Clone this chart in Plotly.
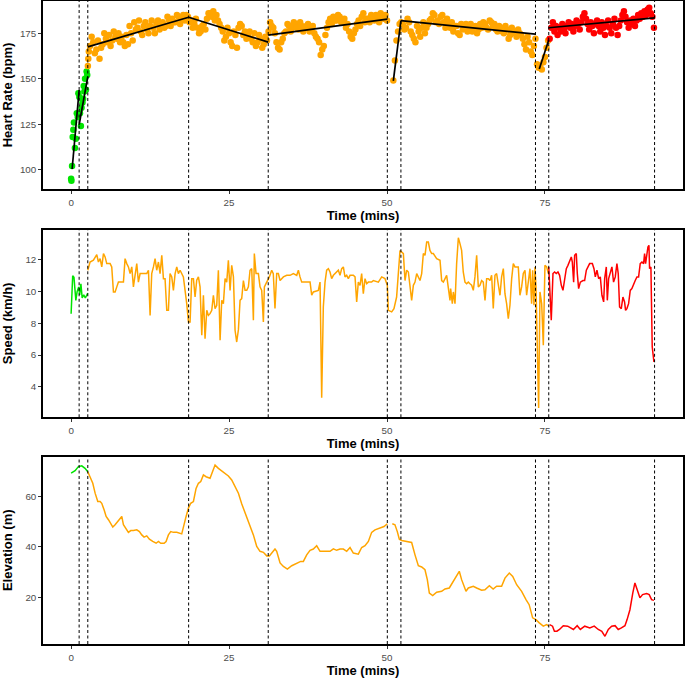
import plotly.graph_objects as go

# ---------------- data ----------------
phase_bounds = [1.27, 2.64, 18.6, 31.2, 50.05, 52.2, 73.5, 75.6, 92.35]

hr_green_t = [0.0, 0.05, 0.15, 0.25, 0.35, 0.45, 0.6, 0.75, 0.9, 1.05, 1.15, 1.3,
              1.4, 1.55, 1.65, 1.8, 1.9, 2.0, 2.1, 2.2, 2.35, 2.45, 2.55]
hr_green = [95, 94, 102, 118, 122, 126, 112, 117, 131, 129, 142, 140,
            131, 124, 134, 137, 139, 146, 143, 150, 144, 154, 152]

hr_orange_pre_t = [2.65, 2.72, 2.8]
hr_orange_pre = [157, 161, 165]
hr_orange_start, hr_orange_step = 3.0, 0.5
hr_orange = [
    168, 170, 166, 161, 169, 172, 174, 171, 173, 175,
    173, 168, 169, 175, 181, 178, 176, 179, 177, 179,
    178, 180, 177, 181, 179, 182, 183, 181, 184, 183,
    182, 184, 182, 180, 178, 176, 180, 183, 186, 187,
    185, 180, 176, 173, 175, 168, 174, 178, 179, 176,
    174, 172, 175, 170, 172, 169, 171, 181, 178, 170,
    166, 172, 176, 179, 178, 180, 177, 179, 178, 180,
    177, 175, 172, 163, 168, 178, 183, 184, 182, 184,
    181, 178, 176, 172, 177, 182, 184, 181, 183, 185,
    182, 184, 186, 183, 182, None, 149, 171, 180, 180,
    178, 181, 174, 170, 176, 178, 175, 180, 183, 185,
    182, 184, 181, 183, 178, 176, 179, 174, 177, 180,
    178, 176, 179, 177, 178, 180, 177, 181, 180, 176,
    178, 175, 177, 174, 176, 173, 175, 172, 166, 170,
    163, 172, 156, 155, 162, 171]
# second set of readings, sampled between the first ones
hr_orange_b_start = 3.25
hr_orange_b = [
    173, 164, 171, 167, 175, 170, 168, 176, 172, 170,
    170, 174, 179, 171, 177, 182, 174, 181, 175, 182,
    175, 182, 180, 178, 184, 179, 181, 185, 180, 185,
    185, 181, 178, 183, 175, 179, 177, 186, 184, 182,
    182, 178, 171, 178, 170, 176, 167, 180, 174, 172,
    176, 170, 168, 174, 167, 173, 176, 179, 175, 167,
    170, 175, 180, 176, 181, 178, 181, 176, 179, 176,
    179, 173, 170, 166, 174, 181, 180, 182, 185, 181,
    183, 180, 173, 175, 180, 179, 186, 183, 181, 183,
    185, 181, 184, 185, None, None, 160, 176, 181, 177,
    183, 176, 172, 179, 173, 181, 178, 182, 186, 181,
    180, 185, 178, 180, 181, 179, 175, 180, 178, 176,
    180, 178, 175, 180, 181, 178, 182, 179, 177, 179,
    176, 179, 172, 178, 175, 177, 174, 169, 173, 165,
    168, 158, 157, 159, 167]
hr_red_start, hr_red_step = 75.75, 0.25
hr_red = [
    172, 178, 181, 176, 179, 174, 178, 176, 180, 177,
    175, 179, 181, 178, 180, 176, 179, 182, 180, 177,
    181, 184, 186, 183, 180, 177, 181, 179, 175, 180,
    182, 179, 176, 181, 178, 174, 179, 182, 178, 175,
    180, 183, 178, 174, 179, 182, 185, 187, 184, 181,
    178, 182, 180, 183, 179, 182, 185, 183, 186, 184,
    187, 185, 188, 189, 186, 184, 178]

# per-phase linear fits of heart rate (start/end of each fitted segment)
fit_t0 = [0.16, 1.27, 2.64, 18.6, 31.2, 51.0, 52.2, 74.1, 75.6]
fit_t1 = [1.27, 2.64, 18.6, 31.2, 50.05, 52.2, 73.5, 75.6, 92.35]
fit_hr0 = [100.4, 124.7, 167.5, 183.8, 174.0, 148.8, 181.9, 155.4, 178.0]
fit_hr1 = [143.8, 151.2, 183.8, 170.1, 182.7, 181.9, 174.5, 171.3, 183.4]

speed_green = [(0.0, 8.6), (0.25, 11.0), (0.45, 10.9), (0.75, 9.45), (0.95, 10.0),
               (1.2, 10.3), (1.35, 9.8), (1.55, 10.5), (1.75, 9.6), (2.0, 9.8),
               (2.25, 9.6), (2.5, 9.8), (2.64, 9.9)]
speed_orange = [
    (2.64, 11.35), (3.0, 11.87), (3.53, 11.98), (4.06, 12.33), (4.32, 11.87), (4.59, 12.08),
    (4.85, 11.56), (5.12, 12.4), (5.38, 12.19), (5.64, 11.77), (6.17, 11.77), (6.43, 11.56),
    (6.7, 9.98), (6.96, 9.98), (7.23, 10.3), (7.49, 10.6), (8.28, 10.6), (8.54, 12.08),
    (8.81, 11.77), (9.07, 11.56), (9.34, 11.14), (9.6, 11.56), (9.86, 10.3), (10.13, 11.14),
    (10.39, 11.77), (10.65, 10.6), (10.92, 11.14), (11.97, 11.14), (12.24, 11.35), (12.5, 8.5),
    (12.76, 11.14), (13.03, 11.56), (13.29, 12.08), (13.55, 11.35), (13.82, 11.87), (14.08, 11.14),
    (14.35, 12.29), (14.61, 10.82), (14.87, 10.82), (15.14, 8.82), (15.4, 8.82), (15.66, 11.14),
    (15.93, 10.93), (16.19, 10.08), (16.46, 11.14), (16.72, 11.56), (16.98, 11.14), (17.25, 11.35),
    (17.51, 11.14), (17.77, 10.93), (18.3, 9.24), (18.57, 8.09), (18.83, 8.09), (19.09, 10.82),
    (19.36, 10.82), (19.62, 9.66), (19.88, 10.72), (20.15, 10.93), (20.41, 10.3), (20.68, 7.25),
    (20.94, 9.77), (21.2, 7.03), (21.47, 8.82), (21.73, 8.5), (21.99, 8.61), (22.26, 8.82),
    (22.52, 9.77), (22.78, 8.93), (23.05, 9.14), (23.31, 11.35), (23.58, 6.93), (23.84, 9.45),
    (24.1, 9.24), (24.37, 10.82), (24.63, 10.6), (24.89, 11.98), (25.16, 10.08), (25.42, 11.66),
    (25.69, 10.93), (25.95, 7.56), (26.21, 6.82), (26.48, 7.6), (26.74, 9.45), (27.0, 9.56),
    (27.27, 10.7), (27.53, 10.08), (27.8, 10.08), (28.06, 10.3), (28.32, 11.35), (28.59, 11.45),
    (28.85, 8.19), (29.0, 12.4), (29.27, 11.14), (29.64, 11.14), (29.9, 10.3), (30.17, 10.08),
    (30.43, 8.09), (30.59, 10.3), (30.96, 10.6), (31.38, 10.93), (31.75, 11.35), (32.0, 11.14),
    (32.27, 8.93), (32.54, 11.14), (32.8, 11.14), (33.07, 10.7), (33.6, 10.93), (34.13, 11.03),
    (34.65, 11.03), (35.18, 11.14), (35.71, 11.03), (35.97, 11.35), (36.23, 10.93), (36.5, 10.6),
    (37.82, 10.6), (38.08, 9.77), (38.34, 9.98), (39.13, 10.08), (39.4, 10.6), (39.66, 3.3),
    (39.92, 9.03), (40.19, 10.6), (40.45, 11.35), (40.72, 11.45), (40.98, 11.24), (41.24, 10.82),
    (41.51, 11.03), (41.77, 11.14), (42.03, 11.24), (42.3, 11.35), (42.56, 11.03), (42.83, 11.45),
    (43.09, 11.56), (43.35, 10.93), (43.62, 11.03), (43.88, 10.82), (44.15, 11.03), (44.67, 11.03),
    (44.94, 10.93), (45.2, 9.35), (45.46, 10.6), (45.73, 10.4), (45.99, 11.14), (46.25, 9.87),
    (46.52, 10.82), (46.78, 10.5), (47.05, 10.6), (47.57, 10.6), (47.84, 10.7), (48.37, 10.6),
    (48.63, 10.6), (49.16, 10.93), (49.68, 10.82), (50.05, 10.4), (50.21, 8.82), (50.74, 8.72),
    (51.1, 8.93), (51.52, 9.66), (51.79, 11.35), (52.06, 12.6), (52.32, 12.5), (52.59, 12.4),
    (52.85, 10.7), (53.11, 11.35), (53.38, 11.24), (53.64, 10.3), (53.9, 9.45), (54.17, 10.4),
    (54.43, 10.6), (54.7, 11.14), (54.96, 10.93), (55.22, 10.7), (55.49, 11.14), (55.75, 12.4),
    (56.01, 12.29), (56.28, 13.13), (56.54, 13.13), (56.8, 12.6), (57.07, 12.4), (57.33, 12.4),
    (57.86, 12.08), (58.39, 11.98), (58.65, 10.7), (58.92, 10.6), (59.44, 11.03), (59.97, 9.45),
    (60.07, 10.19), (60.34, 9.24), (60.5, 9.98), (60.76, 9.24), (61.02, 11.77), (61.29, 13.4),
    (61.55, 13.03), (61.81, 12.6), (62.07, 11.24), (62.34, 10.6), (62.6, 10.5), (62.87, 10.6),
    (63.13, 10.5), (63.4, 10.4), (63.66, 10.08), (63.92, 10.93), (64.19, 12.29), (64.45, 10.3),
    (64.71, 10.4), (64.98, 10.7), (65.24, 10.6), (65.51, 9.45), (65.77, 10.82), (66.03, 10.82),
    (66.3, 10.7), (66.56, 11.03), (66.82, 8.93), (67.09, 11.03), (67.35, 11.14), (67.62, 10.3),
    (67.88, 9.77), (68.14, 10.93), (68.41, 11.45), (68.67, 9.87), (68.93, 9.24), (69.2, 8.3),
    (69.46, 9.14), (69.73, 10.82), (69.99, 11.77), (70.25, 11.56), (70.52, 11.56), (70.78, 11.56),
    (71.04, 9.77), (71.31, 10.3), (71.57, 11.14), (71.84, 11.35), (72.1, 9.77), (72.36, 10.6),
    (72.63, 11.45), (72.89, 9.24), (73.05, 11.35), (73.26, 9.14), (73.42, 11.56), (73.58, 10.3),
    (73.79, 5.67), (74.0, 2.65), (74.21, 9.98), (74.48, 9.24), (74.74, 6.61), (75.0, 11.66),
    (75.27, 11.56), (75.53, 11.14)]
speed_red = [
    (75.6, 11.56), (75.74, 10.3), (76.0, 8.19), (76.27, 11.14), (76.53, 11.24), (76.79, 11.14),
    (77.06, 11.24), (77.32, 11.03), (77.59, 10.4), (77.85, 10.08), (78.11, 10.7), (78.38, 11.45),
    (78.64, 11.66), (78.9, 11.98), (79.17, 12.19), (79.33, 11.87), (79.54, 10.6), (79.7, 12.29),
    (79.96, 12.4), (80.12, 11.14), (80.33, 10.19), (80.6, 10.6), (81.02, 10.7), (81.28, 10.7),
    (81.55, 11.35), (82.07, 11.77), (82.5, 11.77), (82.76, 11.45), (82.97, 10.93), (83.23, 11.35),
    (83.5, 10.82), (83.76, 10.93), (84.02, 9.77), (84.29, 9.35), (84.45, 10.82), (84.71, 11.56),
    (84.87, 9.45), (85.08, 10.82), (85.34, 11.14), (85.6, 11.56), (85.86, 10.6), (86.13, 10.93),
    (86.39, 11.77), (86.6, 11.14), (86.81, 9.03), (87.08, 8.93), (87.34, 9.66), (87.6, 9.35),
    (87.76, 8.82), (87.97, 8.93), (88.24, 9.24), (88.5, 10.08), (88.76, 10.19), (89.03, 10.4),
    (89.29, 10.7), (89.56, 10.93), (89.82, 10.93), (90.08, 11.77), (90.35, 11.87), (90.61, 11.77),
    (90.77, 12.4), (90.93, 11.77), (91.14, 12.5), (91.3, 12.82), (91.46, 12.92), (91.56, 11.45),
    (91.77, 11.56), (91.98, 6.51), (92.25, 5.56)]

elev_green = [(0.0, 69.1), (0.63, 70.1), (1.16, 71.7), (1.69, 72.0), (2.2, 71.0), (2.64, 69.7)]
elev_orange = [
    (2.64, 69.7), (3.0, 67.7), (3.43, 65.1), (3.8, 61.2), (4.22, 57.9), (4.59, 57.9), (4.85, 57.2),
    (5.22, 54.6), (5.54, 52.0), (5.91, 50.7), (6.28, 49.3), (6.6, 47.8), (6.96, 48.7), (7.23, 49.6),
    (7.49, 50.4), (7.75, 51.3), (8.02, 52.0), (8.28, 48.7), (8.65, 47.4), (9.07, 45.7), (9.44, 46.4),
    (9.86, 46.4), (10.39, 46.7), (10.81, 46.0), (11.18, 44.7), (11.55, 43.8), (11.97, 44.3),
    (12.39, 43.0), (12.92, 42.1), (13.45, 41.4), (13.82, 42.1), (14.19, 41.4), (14.72, 41.4),
    (15.03, 42.1), (15.4, 44.7), (15.77, 46.0), (16.19, 45.7), (16.72, 45.7), (17.51, 45.1),
    (17.77, 48.0), (18.2, 52.0), (18.57, 55.3), (18.93, 57.2), (19.36, 57.9), (19.78, 63.1),
    (20.15, 65.1), (20.52, 65.8), (20.94, 68.4), (21.36, 67.7), (21.99, 67.1), (22.52, 70.4),
    (22.78, 72.3), (23.31, 71.0), (23.84, 70.1), (24.37, 69.1), (24.89, 68.0), (25.42, 66.4),
    (25.95, 63.8), (26.48, 61.2), (27.0, 57.0), (27.27, 55.3), (27.8, 52.0), (28.32, 48.0),
    (28.85, 44.7), (29.38, 40.1), (29.9, 38.2), (30.43, 37.8), (30.96, 36.4), (31.38, 36.4),
    (31.91, 37.8), (32.27, 39.1), (32.54, 38.2), (33.07, 33.6), (33.6, 32.2), (34.23, 31.2),
    (34.92, 32.5), (35.71, 33.6), (36.34, 34.2), (36.76, 34.2), (37.29, 36.8), (37.82, 38.6),
    (38.34, 39.1), (38.87, 40.4), (39.4, 38.2), (40.45, 38.2), (40.98, 38.2), (41.51, 39.2),
    (42.03, 38.6), (42.56, 39.1), (43.09, 39.1), (43.62, 38.2), (44.15, 39.7), (44.67, 37.5),
    (45.46, 37.1), (45.99, 39.7), (46.52, 40.4), (47.05, 42.1), (47.57, 45.7), (48.1, 46.7),
    (48.89, 47.4), (49.52, 48.0), (50.05, 49.1), (50.4, None), (50.84, 49.1), (51.26, 48.7),
    (51.63, 46.0), (51.95, 43.0), (52.32, 42.5), (53.11, 42.1), (53.9, 41.7), (54.43, 36.8),
    (54.96, 32.5), (55.49, 32.0), (56.01, 30.9), (56.38, 27.0), (56.7, 21.7), (57.23, 20.7),
    (57.86, 22.0), (58.65, 22.4), (59.18, 23.3), (59.86, 23.7), (60.5, 26.3), (61.02, 28.6),
    (61.44, 30.3), (61.81, 27.0), (62.5, 22.4), (62.87, 23.7), (63.66, 24.4), (64.19, 23.7),
    (64.98, 22.8), (65.5, 23.0), (66.2, 24.6), (66.8, 23.3), (67.35, 24.4), (68.14, 24.4),
    (68.67, 27.6), (69.36, 29.6), (69.9, 28.3), (70.52, 25.0), (71.31, 22.4), (72.0, 19.1),
    (72.5, 17.1), (73.05, 11.9), (73.58, 11.2), (74.1, 9.9), (74.74, 8.6), (75.27, 9.2), (75.6, 8.6)]
elev_red = [
    (75.74, 9.2), (76.2, 8.6), (76.5, 6.6), (76.9, 6.6), (77.3, 7.3), (77.9, 8.8), (78.6, 8.6),
    (79.5, 7.3), (80.1, 8.8), (80.6, 7.3), (81.3, 8.6), (82.1, 7.9), (82.8, 8.6), (83.44, 7.3),
    (84.0, 6.6), (84.5, 4.6), (85.03, 7.3), (85.56, 8.6), (86.1, 8.8), (86.6, 7.3), (87.1, 7.9),
    (87.66, 8.8), (88.0, 11.2), (88.45, 15.1), (88.9, 21.7), (89.24, 25.7), (89.6, 23.0),
    (90.03, 19.8), (90.45, 21.1), (91.1, 21.5), (91.5, 21.1), (91.88, 19.1), (92.25, 18.8)]

x_ticks = [0, 25, 50, 75]
hr_ticks = [100, 125, 150, 175]
speed_ticks = [4, 6, 8, 10, 12]
elev_ticks = [20, 40, 60]
titles_y = ["Heart Rate (bpm)", "Speed (km/h)", "Elevation (m)"]

# ---------------- styling ----------------
GREEN, ORANGE, RED = "#00E400", "#FFA500", "#FF0000"
FONT = "Liberation Sans, Arial, sans-serif"


def unzip(pairs):
    return [p[0] for p in pairs], [p[1] for p in pairs]


fig = go.Figure()

# Heart rate points
hr_orange_t = (hr_orange_pre_t
               + [hr_orange_start + hr_orange_step * i for i in range(len(hr_orange))]
               + [hr_orange_b_start + hr_orange_step * i for i in range(len(hr_orange_b))])
hr_orange_v = hr_orange_pre + hr_orange + hr_orange_b
hr_red_t = [hr_red_start + hr_red_step * i for i in range(len(hr_red))]
for tx, vy, col in [(hr_green_t, hr_green, GREEN), (hr_orange_t, hr_orange_v, ORANGE),
                    (hr_red_t, hr_red, RED)]:
    fig.add_trace(go.Scatter(x=tx, y=vy, mode="markers", xaxis="x", yaxis="y",
                             marker=dict(color=col, size=6.5, line=dict(width=0)),
                             showlegend=False))
# fitted lines
fx, fy = [], []
for a, b, c, d in zip(fit_t0, fit_t1, fit_hr0, fit_hr1):
    fx += [a, b, None]
    fy += [c, d, None]
fig.add_trace(go.Scatter(x=fx, y=fy, mode="lines", xaxis="x", yaxis="y",
                         line=dict(color="black", width=1.7), showlegend=False))

# Speed lines
for pairs, col in [(speed_green, GREEN), (speed_orange, ORANGE), (speed_red, RED)]:
    tx, vy = unzip(pairs)
    fig.add_trace(go.Scatter(x=tx, y=vy, mode="lines", xaxis="x2", yaxis="y2",
                             line=dict(color=col, width=1.5), showlegend=False))

# Elevation lines
for pairs, col in [(elev_green, GREEN), (elev_orange, ORANGE), (elev_red, RED)]:
    tx, vy = unzip(pairs)
    fig.add_trace(go.Scatter(x=tx, y=vy, mode="lines", xaxis="x3", yaxis="y3",
                             line=dict(color=col, width=1.5), showlegend=False,
                             connectgaps=False))

# phase boundary lines
shapes = []
for xref, yref in [("x", "y domain"), ("x2", "y2 domain"), ("x3", "y3 domain")]:
    for b in phase_bounds:
        shapes.append(dict(type="line", xref=xref, yref=yref, x0=b, x1=b, y0=0, y1=1,
                           line=dict(color="black", width=1, dash="3px,2.5px"), layer="above"))

tickfont = dict(family=FONT, size=9.8, color="#4d4d4d")
titlefont = dict(family=FONT, size=13, color="black", weight="bold")


def xax(anchor):
    return dict(anchor=anchor, range=[-4.45, 96.85], tickvals=x_ticks, ticks="outside",
                ticklen=3, tickwidth=1, tickcolor="#333333", tickfont=tickfont,
                showline=True, mirror=True, linecolor="black", linewidth=1.5,
                showgrid=False, zeroline=False, automargin=False,
                title=dict(text="Time (mins)", font=titlefont, standoff=3))


def yax(anchor, dom, rng, tv, title, standoff):
    return dict(anchor=anchor, domain=dom, range=rng, tickvals=tv, ticks="outside",
                ticklen=3, tickwidth=1, tickcolor="#333333", tickfont=tickfont,
                showline=True, mirror=True, linecolor="black", linewidth=1.5,
                showgrid=False, zeroline=False, automargin=False,
                title=dict(text=title, font=titlefont, standoff=standoff))


fig.update_layout(
    width=685, height=680,
    margin=dict(l=43, r=2, t=1, b=36),
    paper_bgcolor="white", plot_bgcolor="white",
    font=dict(family=FONT),
    hovermode=False,
    xaxis=xax("y"), xaxis2=xax("y2"), xaxis3=xax("y3"),
    yaxis=yax("x", [0.7076, 1.0], [89.4, 192.7], hr_ticks, titles_y[0], 6),
    yaxis2=yax("x2", [0.3526, 0.6446], [2.07, 13.92], speed_ticks, titles_y[1], 12),
    yaxis3=yax("x3", [0.0, 0.2916], [1.55, 75.7], elev_ticks, titles_y[2], 12),
    shapes=shapes,
)

# page body margin reset so the 685x680 figure fills the window exactly
fig.write_html("out.html", config={"displayModeBar": False},
               post_script="document.body.style.margin='0px';")
